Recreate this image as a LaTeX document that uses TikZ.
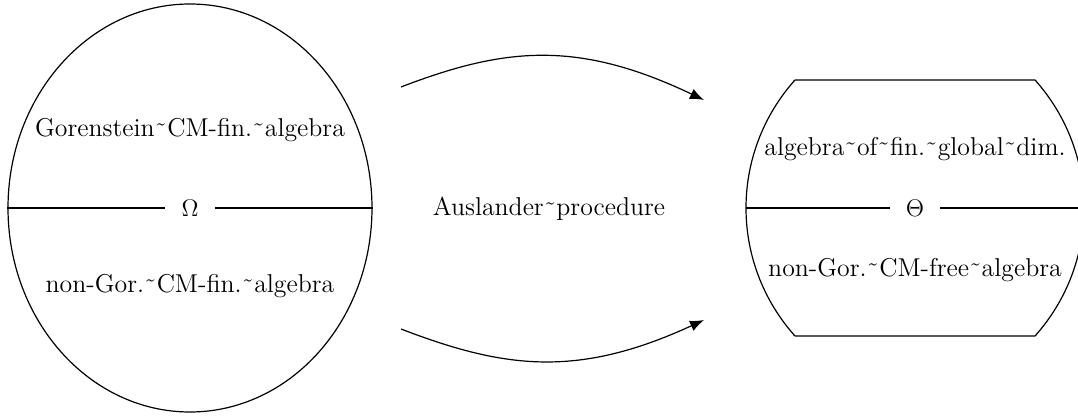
\documentclass[tikz,border=0pt]{standalone}
\usetikzlibrary{arrows.meta,shapes.geometric}
\newcommand\tl{\raisebox{-0.3ex}{\char"02DC}}
\begin{document}
\begin{tikzpicture}[x=0.5pt,y=-0.5pt,
  every node/.style={font=\fontsize{12.9}{15}\selectfont},
  txt/.style={anchor=base,inner sep=0pt},
  sym/.style={anchor=base,inner sep=0pt,minimum width=25pt},
  shp/.style={line width=0.6pt},
  arr/.style={line width=0.6pt,-{Latex[length=7pt,width=5.5pt]}}]
\useasboundingbox (0,0) rectangle (1078,416);
\clip (0,0) rectangle (1078,416);
% left ellipse
\node[ellipse,draw,shp,minimum width=182pt,minimum height=204pt,inner sep=0pt] (L) at (190,208) {};
\node[sym] (om) at (190,216.5) {$\Omega$};
\draw[shp] (L.west) -- (om.west |- L.center);
\draw[shp] (om.east |- L.center) -- (L.east);
\node[txt] (g1) at (190,137) {Gorenstein\tl CM-fin.\tl algebra};
\node[txt] (g2) at (190,293) {non-Gor.\tl CM-fin.\tl algebra};
% middle
\node[txt] (au) at (549,216) {Auslander\tl procedure};
\coordinate (a1s) at (401,87);
\coordinate (a1e) at (704,100);
\coordinate (a2s) at (401,329);
\coordinate (a2e) at (704,320);
\draw[arr] (a1s) .. controls (505,47) and (578,40) .. (a1e);
\draw[arr] (a2s) .. controls (505,369) and (578,378) .. (a2e);
% right barrel
\coordinate (tl) at (795,80);
\coordinate (tr) at (1035,80);
\coordinate (bl) at (795,336);
\coordinate (br) at (1035,336);
\coordinate (rw) at (746,208);
\coordinate (re) at (1078,208);
\draw[shp] (tl) -- (tr)
  -- plot[domain=-41.9:41.9,samples=60,smooth] ({892.3+191.7*cos(\x)},{208+191.7*sin(\x)})
  -- (br) -- (bl)
  -- plot[domain=41.9:-41.9,samples=60,smooth] ({937.7-191.7*cos(\x)},{208+191.7*sin(\x)})
  -- cycle;
\node[sym] (th) at (915,216.5) {$\Theta$};
\draw[shp] (rw) -- (th.west |- rw);
\draw[shp] (th.east |- re) -- (re);
\node[txt] (r1) at (915,156) {algebra\tl of\tl fin.\tl global\tl dim.};
\node[txt] (r2) at (915,277) {non-Gor.\tl CM-free\tl algebra};
\end{tikzpicture}
\end{document}
